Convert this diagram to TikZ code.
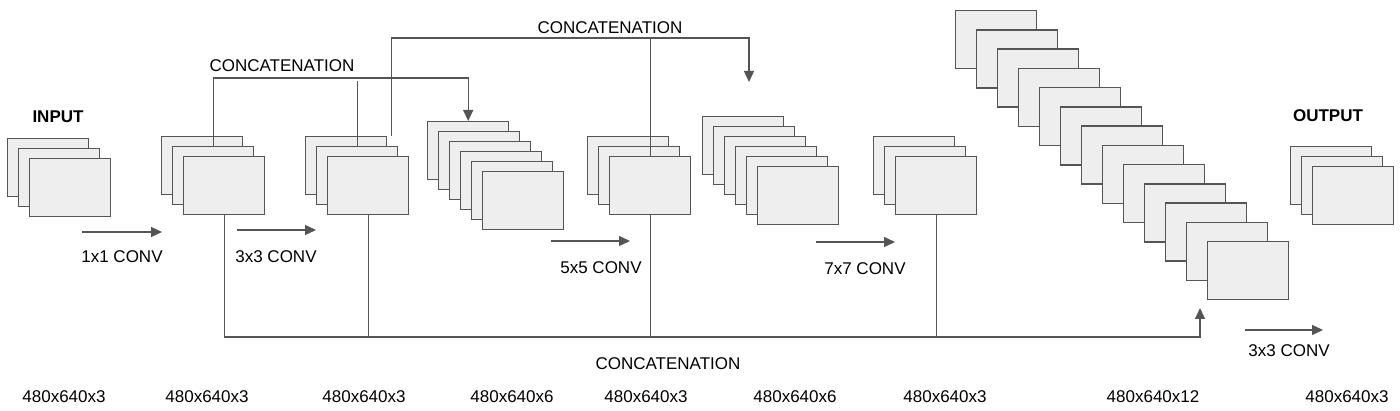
\documentclass[tikz,border=0pt]{standalone}
\usepackage{fontspec}
\setmainfont{Liberation Sans}
\usepackage{tikz}
\usetikzlibrary{arrows.meta,positioning}
\definecolor{mapfill}{HTML}{EEEEEE}
\definecolor{mapline}{HTML}{555555}

\begin{document}
\begin{tikzpicture}[x=1pt, y=-1pt, >={Triangle[length=11pt,width=10pt]},
  fmap/.style={draw=mapline, fill=mapfill, line width=1.4pt, minimum width=81pt, minimum height=58pt, inner sep=0pt, anchor=north west},
  lbl/.style={font=\fontsize{17}{20}\selectfont, inner sep=0pt},
  hd/.style={font=\fontsize{17}{20}\selectfont\bfseries, inner sep=0pt},
  conn/.style={draw=mapline, line width=1.4pt}]
\useasboundingbox (0,0) rectangle (1400,411);
% feature map stacks: name/x/y/layers/dx/dy
\foreach \nm/\x/\y/\n/\dx/\dy in {in/7/138/3/11/10, a/161/136/3/11/10, b/305/136/3/11/10, c/427/121/6/11/10, d/587/136/3/11/10, e/702/116/6/11/10, f/873/136/3/11/10, g/955/10/13/21/19.25, out/1290/146/3/11/10}
  \foreach \i in {1,...,\n}
    \node[fmap] (\nm-\i) at ({\x+(\i-1)*\dx}, {\y+(\i-1)*\dy}) {};
\node[hd] (inlbl) at (58,117) {INPUT};
\node[hd] (outlbl) at (1328,116) {OUTPUT};
% convolutions
\coordinate (k1a) at (82,232); \coordinate (k1b) at (162,232);
\coordinate (k2a) at (237,230); \coordinate (k2b) at (316,230);
\coordinate (k3a) at (551,241); \coordinate (k3b) at (630,241);
\coordinate (k4a) at (816,242); \coordinate (k4b) at (895,242);
\coordinate (k5a) at (1245,330); \coordinate (k5b) at (1323,330);
\node[lbl] (k1) at (122,257) {1x1 CONV};
\node[lbl] (k2) at (276,257) {3x3 CONV};
\node[lbl] (k3) at (601,268) {5x5 CONV};
\node[lbl] (k4) at (865,269) {7x7 CONV};
\node[lbl] (k5) at (1289,351) {3x3 CONV};
\draw[conn,->] (k1a) -- (k1b);
\draw[conn,->] (k2a) -- (k2b);
\draw[conn,->] (k3a) -- (k3b);
\draw[conn,->] (k4a) -- (k4b);
\draw[conn,->] (k5a) -- (k5b);
% concatenations
\coordinate (topln) at (0,38);
\coordinate (midln) at (0,78);
\coordinate (botln) at (0,337);
\coordinate (topE) at (749,82);
\coordinate (botG) at (1200,308);
\node[lbl] (cat1) at (610,28) {CONCATENATION};
\node[lbl] (cat2) at (282,66) {CONCATENATION};
\node[lbl] (cat3) at (668,364) {CONCATENATION};
\draw[conn,->] ([xshift=4pt]b-1.north east) |- (topE |- topln) -- (topE);
\draw[conn] (d-3.north) -- (d-3.north |- topln);
\draw[conn,->] (a-2.north) |- (c-1.north |- midln) -- (c-1.north);
\draw[conn] (b-2.north) -- ++(0,-65);
\draw[conn,->] (a-3.south) |- (botG |- botln) -- (botG);
\draw[conn] (b-3.south) -- (b-3.south |- botln);
\draw[conn] (d-3.south) -- (d-3.south |- botln);
\draw[conn] (f-3.south) -- (f-3.south |- botln);
% tensor sizes
\foreach \x/\t [count=\k] in {64/480x640x3, 207/480x640x3, 364/480x640x3, 512/480x640x6, 646/480x640x3, 795/480x640x6, 945/480x640x3, 1153/480x640x12, 1347/480x640x3}
  \node[lbl] (dim\k) at (\x,397) {\t};
\end{tikzpicture}
\end{document}
